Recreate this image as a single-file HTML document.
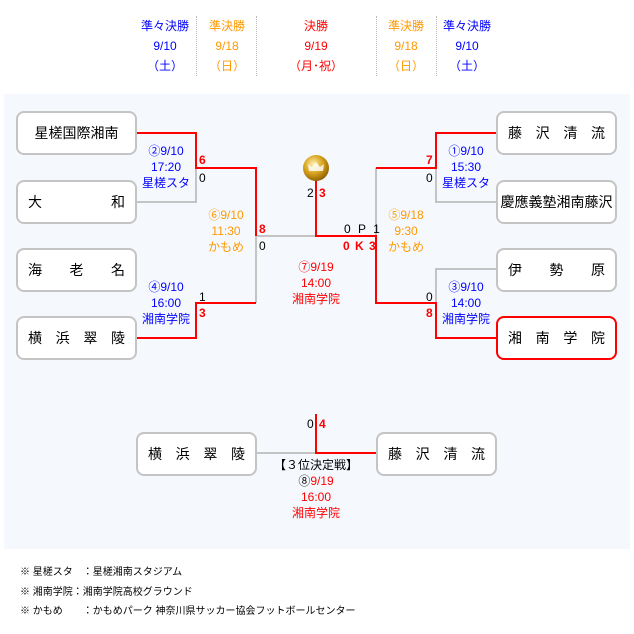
<!DOCTYPE html>
<html><head><meta charset="utf-8"><style>
*{margin:0;padding:0}
body{width:634px;height:634px;background:#fff;position:relative;font-family:"Liberation Sans","Noto Sans CJK JP",sans-serif;overflow:hidden}
.a{position:absolute;white-space:nowrap}
.c{text-align:center;font-size:12px;line-height:20px}
.panel{position:absolute;left:4px;top:94px;width:626px;height:455px;background:#f5f9fe}
.box{position:absolute;border:2px solid #c4c4c4;border-radius:8px;background:#fff;font-size:14px;line-height:40px;display:flex;justify-content:space-between;align-items:center;padding:0 10px;box-sizing:border-box;width:121px;height:44px;color:#000}
.red{border-color:#f00}
.s{position:absolute;font-size:12px;line-height:14px}
.b{color:#00f}.o{color:#f90}.r{color:#f00}.k{color:#000}
.sep{position:absolute;top:16px;height:60px;border-left:1px dotted #bbb}
.n{position:absolute;font-size:10px;line-height:14px;left:20px}
</style></head><body>
<div class="a c b" style="left:135px;top:16px;width:60px">準々決勝<br>9/10<br>（土）</div>
<div class="a c o" style="left:197px;top:16px;width:60px">準決勝<br>9/18<br>（日）</div>
<div class="a c r" style="left:286px;top:16px;width:60px">決勝<br>9/19<br>（月･祝）</div>
<div class="a c o" style="left:376px;top:16px;width:60px">準決勝<br>9/18<br>（日）</div>
<div class="a c b" style="left:437px;top:16px;width:60px">準々決勝<br>9/10<br>（土）</div>
<div class="sep" style="left:196px"></div><div class="sep" style="left:256px"></div>
<div class="sep" style="left:376px"></div><div class="sep" style="left:436px"></div>
<div class="panel"></div>
<svg class="a" style="left:0;top:0" width="634" height="634">
<g fill="none" stroke-width="2">
<path d="M137 202H196V168M256 236V303M256 236H316M376 168V236M496 202H436V168M496 269H436V303M257 453H316" stroke="#c4c4c4"/>
<path d="M137 133H196V168H256V236M137 338H196V303H256M316 180V236H376V303H436V338H496M376 303H436M376 168H436V133H496M316 414V453H376" stroke="#f00"/>
</g>
<defs><radialGradient id="g" cx="40%" cy="35%" r="70%"><stop offset="0" stop-color="#fff3b0"/><stop offset=".5" stop-color="#d9a520"/><stop offset="1" stop-color="#8a5a00"/></radialGradient></defs>
<circle cx="316" cy="168" r="13" fill="url(#g)"/>
<path d="M309 171l-1-7 4 3 4-5 4 5 4-3-1 7z" fill="#fff" opacity=".8"/>
</svg>
<div class="box" style="left:16px;top:111px;justify-content:center">星槎国際湘南</div>
<div class="box" style="left:16px;top:180px"><span>大</span><span>和</span></div>
<div class="box" style="left:16px;top:248px"><span>海</span><span>老</span><span>名</span></div>
<div class="box" style="left:16px;top:316px"><span>横</span><span>浜</span><span>翠</span><span>陵</span></div>
<div class="box" style="left:496px;top:111px"><span>藤</span><span>沢</span><span>清</span><span>流</span></div>
<div class="box" style="left:496px;top:180px;justify-content:center;padding:0">慶應義塾湘南藤沢</div>
<div class="box" style="left:496px;top:248px"><span>伊</span><span>勢</span><span>原</span></div>
<div class="box red" style="left:496px;top:316px"><span>湘</span><span>南</span><span>学</span><span>院</span></div>
<div class="box" style="left:136px;top:432px"><span>横</span><span>浜</span><span>翠</span><span>陵</span></div>
<div class="box" style="left:376px;top:432px"><span>藤</span><span>沢</span><span>清</span><span>流</span></div>
<div class="a c b" style="left:136px;top:143px;width:60px;line-height:16px">②9/10<br>17:20<br>星槎スタ</div>
<div class="a c b" style="left:136px;top:279px;width:60px;line-height:16px">④9/10<br>16:00<br>湘南学院</div>
<div class="a c o" style="left:196px;top:207px;width:60px;line-height:16px">⑥9/10<br>11:30<br>かもめ</div>
<div class="a c r" style="left:286px;top:259px;width:60px;line-height:16px">⑦9/19<br>14:00<br>湘南学院</div>
<div class="a c o" style="left:376px;top:207px;width:60px;line-height:16px">⑤9/18<br>9:30<br>かもめ</div>
<div class="a c b" style="left:436px;top:143px;width:60px;line-height:16px">①9/10<br>15:30<br>星槎スタ</div>
<div class="a c b" style="left:436px;top:279px;width:60px;line-height:16px">③9/10<br>14:00<br>湘南学院</div>
<div class="a c" style="left:256px;top:457px;width:120px;line-height:16px"><span class="k">【３位決定戦】</span><br><span class="k">⑧</span><span class="r">9/19<br>16:00<br>湘南学院</span></div>
<div class="s r" style="left:199px;top:153px;font-weight:bold">6</div>
<div class="s k" style="left:199px;top:171px">0</div>
<div class="s k" style="left:199px;top:290px">1</div>
<div class="s r" style="left:199px;top:306px;font-weight:bold">3</div>
<div class="s r" style="left:259px;top:222px;font-weight:bold">8</div>
<div class="s k" style="left:259px;top:239px">0</div>
<div class="s k" style="left:307px;top:186px">2</div>
<div class="s r" style="left:319px;top:186px;font-weight:bold">3</div>
<div class="s k" style="left:344px;top:222px;letter-spacing:2px">0 P 1</div>
<div class="s r" style="left:343px;top:239px;font-weight:bold;letter-spacing:1px">0 K 3</div>
<div class="s r" style="left:426px;top:153px;font-weight:bold">7</div>
<div class="s k" style="left:426px;top:171px">0</div>
<div class="s k" style="left:426px;top:290px">0</div>
<div class="s r" style="left:426px;top:306px;font-weight:bold">8</div>
<div class="s k" style="left:307px;top:417px">0</div>
<div class="s r" style="left:319px;top:417px;font-weight:bold">4</div>
<div class="n" style="top:566px">※ 星槎スタ　：星槎湘南スタジアム</div>
<div class="n" style="top:586px">※ 湘南学院：湘南学院高校グラウンド</div>
<div class="n" style="top:605px">※ かもめ　　：かもめパーク 神奈川県サッカー協会フットボールセンター</div>
</body></html>
